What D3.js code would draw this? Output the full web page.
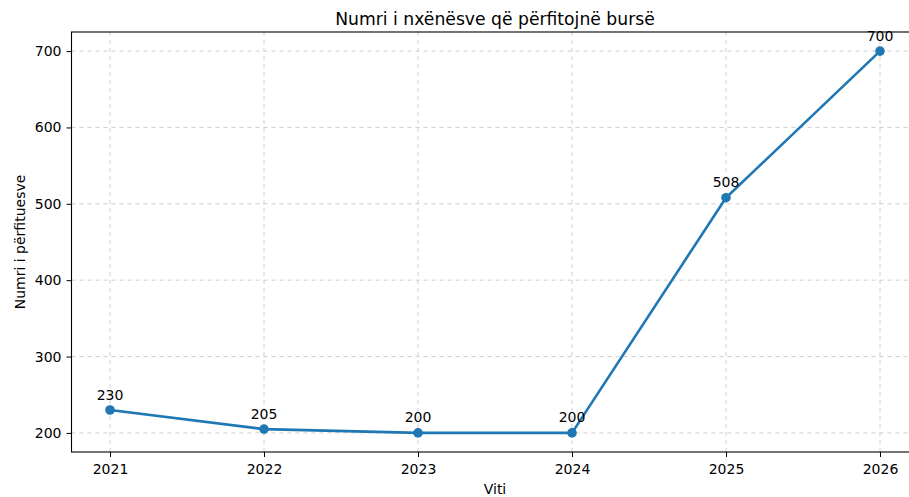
<!DOCTYPE html>
<html>
<head>
<meta charset="utf-8">
<script src="https://cdn.jsdelivr.net/npm/d3@7"></script>
<style>
  body { margin: 0; background: #fff; }
  svg { display: block; font-family: "DejaVu Sans", sans-serif; }
</style>
</head>
<body>
<div id="chart"></div>
<script>
// Data
const years = [2021, 2022, 2023, 2024, 2025, 2026];
const students = [230, 205, 200, 200, 508, 700];
const yTicks = [200, 300, 400, 500, 600, 700];

const width = 909, height = 497;
const margin = { top: 32, left: 71.5 };
// axes area runs past the right edge, like the cropped original
const plotW = 847, plotH = 420;
const fontSize = 14;

const svg = d3.select('#chart').append('svg')
  .attr('width', width)
  .attr('height', height);

const x = d3.scaleLinear().domain([2020.75, 2026.25]).range([margin.left, margin.left + plotW]);
const y = d3.scaleLinear().domain([175, 725]).range([margin.top + plotH, margin.top]);

// grid
const grid = svg.append('g')
  .attr('stroke', '#b0b0b0')
  .attr('stroke-opacity', 0.6)
  .attr('stroke-dasharray', '4,4')
  .attr('stroke-width', 1);

grid.selectAll('.gx').data(years).enter().append('line')
  .attr('x1', d => x(d)).attr('x2', d => x(d))
  .attr('y1', margin.top).attr('y2', margin.top + plotH);

grid.selectAll('.gy').data(yTicks).enter().append('line')
  .attr('x1', margin.left).attr('x2', margin.left + plotW)
  .attr('y1', d => y(d)).attr('y2', d => y(d));

// axes
const xAxis = d3.axisBottom(x).tickValues(years).tickFormat(d3.format('d')).tickSize(5).tickPadding(7);
const yAxis = d3.axisLeft(y).tickValues(yTicks).tickSize(5).tickPadding(5);

svg.append('g')
  .attr('transform', `translate(0,${margin.top + plotH})`)
  .call(xAxis)
  .call(g => g.select('.domain').remove());

svg.append('g')
  .attr('transform', `translate(${margin.left},0)`)
  .call(yAxis)
  .call(g => g.select('.domain').remove());

svg.selectAll('.tick text')
  .attr('font-size', fontSize)
  .attr('fill', '#000')
  .attr('font-family', '"DejaVu Sans", sans-serif');
svg.selectAll('.tick line').attr('stroke', '#000');

// spines
svg.append('rect')
  .attr('x', margin.left).attr('y', margin.top)
  .attr('width', plotW).attr('height', plotH)
  .attr('fill', 'none').attr('stroke', '#000').attr('stroke-width', 1.1);

// line + markers
const pts = years.map((yr, i) => [yr, students[i]]);
const lineGen = d3.line().x(d => x(d[0])).y(d => y(d[1]));

svg.append('path')
  .datum(pts)
  .attr('d', lineGen)
  .attr('fill', 'none')
  .attr('stroke', '#1f77b4')
  .attr('stroke-width', 2.6)
  .attr('stroke-linejoin', 'round');

svg.selectAll('.dot').data(pts).enter().append('circle')
  .attr('cx', d => x(d[0]))
  .attr('cy', d => y(d[1]))
  .attr('r', 4.8)
  .attr('fill', '#1f77b4');

// value labels
svg.selectAll('.val').data(pts).enter().append('text')
  .attr('x', d => x(d[0]))
  .attr('y', d => y(d[1]) - 10.5)
  .attr('text-anchor', 'middle')
  .attr('font-size', fontSize)
  .text(d => d[1]);

// title and axis labels
svg.append('text')
  .attr('x', 495).attr('y', 25)
  .attr('text-anchor', 'middle')
  .attr('font-size', 17.2)
  .text('Numri i nxënësve që përfitojnë bursë');

svg.append('text')
  .attr('x', 495).attr('y', 494)
  .attr('text-anchor', 'middle')
  .attr('font-size', fontSize)
  .text('Viti');

svg.append('text')
  .attr('transform', `translate(25,${margin.top + plotH / 2}) rotate(-90)`)
  .attr('text-anchor', 'middle')
  .attr('font-size', fontSize)
  .text('Numri i përfituesve');
</script>
</body>
</html>
